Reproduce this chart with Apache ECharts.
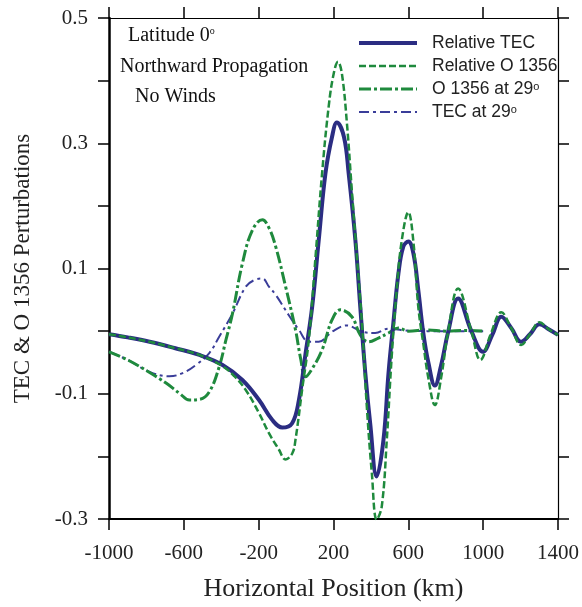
<!DOCTYPE html>
<html>
<head>
<meta charset="utf-8">
<script src="https://cdn.jsdelivr.net/npm/echarts@6/dist/echarts.min.js"></script>
<style>
html,body{margin:0;padding:0;background:#fff;}
#chart{width:582px;height:607px;}
</style>
</head>
<body>
<div id="chart"></div>
<script>
// ---- data (km, perturbation) ----
var xTicksMin = -1000, xTicksMax = 1400, xTickStep = 400;
var yMin = -0.3, yMax = 0.5, yStep = 0.1;

var relTecX = [-1000,-900,-783,-650,-517,-393,-287,-198,-127,-74,-21,15,50,86,121,157,192,218,256,281,317,343,370,396,431,467,494,520,547,573,600,627,653,680,707,742,775,813,866,937,999,1050,1097,1150,1203,1250,1301,1350,1400];
var relTecV = [-0.005,-0.010,-0.017,-0.027,-0.038,-0.054,-0.078,-0.110,-0.142,-0.154,-0.147,-0.110,-0.037,0.039,0.145,0.252,0.310,0.333,0.310,0.252,0.145,0.039,-0.067,-0.147,-0.232,-0.174,-0.067,0.013,0.092,0.135,0.143,0.124,0.066,-0.003,-0.050,-0.087,-0.055,-0.001,0.052,0.000,-0.033,-0.005,0.023,0.005,-0.017,-0.005,0.011,0.003,-0.006];

var relOX = [-1000,-900,-783,-650,-517,-393,-330,-269,-198,-145,-92,-56,-20,-3,32,68,104,139,174,201,224,245,272,298,325,352,378,405,431,458,485,511,538,565,600,627,653,680,707,742,775,813,866,937,985,1040,1097,1150,1203,1250,1301,1350,1400];
var relOV = [-0.005,-0.010,-0.017,-0.027,-0.038,-0.056,-0.072,-0.094,-0.131,-0.163,-0.189,-0.205,-0.195,-0.173,-0.094,-0.014,0.119,0.252,0.358,0.411,0.430,0.411,0.331,0.225,0.119,0.013,-0.120,-0.227,-0.301,-0.280,-0.173,-0.041,0.066,0.145,0.190,0.143,0.039,-0.020,-0.075,-0.118,-0.075,0.000,0.068,0.000,-0.046,-0.005,0.030,0.005,-0.022,-0.005,0.014,0.003,-0.006];

var o29X = [-1000,-900,-783,-695,-620,-571,-517,-464,-411,-375,-340,-287,-234,-180,-145,-109,-56,-3,25,50,86,139,192,237,298,343,387,440,494,547,600,700,800,900,1000];
var o29V = [-0.033,-0.046,-0.066,-0.083,-0.100,-0.110,-0.109,-0.097,-0.057,-0.014,0.028,0.108,0.161,0.178,0.165,0.135,0.071,0.002,-0.045,-0.073,-0.060,-0.030,0.018,0.034,0.023,-0.006,-0.017,-0.011,-0.003,0.005,0.000,0.002,0.000,0.001,0.000];

var tec29X = [-1000,-900,-783,-677,-606,-535,-464,-411,-340,-269,-220,-180,-145,-109,-38,15,68,121,192,272,352,423,494,583,700,800,900,1000];
var tec29V = [-0.033,-0.046,-0.065,-0.072,-0.067,-0.054,-0.035,-0.009,0.028,0.071,0.082,0.084,0.071,0.058,0.025,0.002,-0.017,-0.017,-0.001,0.009,-0.001,-0.003,0.004,0.001,0.000,0.000,0.000,0.000];

var seriesNames = ['Relative TEC','Relative O 1356','O 1356 at 29\u00b0','TEC at 29\u00b0'];
var annotations = ['Latitude 0{deg|o}','Northward Propagation','No Winds'];
var xTitle = 'Horizontal Position (km)';
var yTitle = 'TEC & O 1356 Perturbations';

function pairs(xs, vs){ return xs.map(function(x,i){ return [x, vs[i]]; }); }

var NAVY = '#2b2d82', GREEN = '#1f8a3d', NAVY2 = '#3a3d99';
var serif = 'Liberation Serif';
var styles = [
  {color:NAVY, width:4, type:'solid'},
  {color:GREEN, width:2.5, type:[7,3]},
  {color:GREEN, width:3, type:[12,3,3,3]},
  {color:NAVY2, width:2, type:[10,4,3,4]}
];

var chart = echarts.init(document.getElementById('chart'), null, {renderer:'canvas'});

function xAx(pos, labels){
  return {
    type:'value', position:pos, min:xTicksMin, max:xTicksMax, interval:xTickStep,
    axisLine:{show:true, onZero:false, lineStyle:{color:'#000', width: pos==='bottom'?2:1.2}},
    axisTick:{show:true, inside:false, length:11, lineStyle:{color:'#000', width:1.5}},
    axisLabel:{show:labels, margin:24, fontFamily:serif, fontSize:21, color:'#222',
      formatter:function(v){ return String(Math.round(v)); }},
    splitLine:{show:false},
    name: labels ? xTitle : '', nameLocation:'middle', nameGap:57,
    nameTextStyle:{fontFamily:serif, fontSize:26, color:'#222'}
  };
}
function yAx(pos, labels){
  return {
    type:'value', position:pos, min:yMin, max:yMax, interval:yStep,
    axisLine:{show:true, onZero:false, lineStyle:{color:'#000', width: pos==='left'?2.5:1.2}},
    axisTick:{show:true, inside:false, length:11, lineStyle:{color:'#000', width:1.5}},
    axisLabel:{show:labels, margin:21, fontFamily:serif, fontSize:21, color:'#222',
      formatter:function(v){ var k=Math.round(v*10); return (Math.abs(k)%2===1) ? (k/10).toFixed(1) : ''; }},
    splitLine:{show:false},
    name: labels ? yTitle : '', nameLocation:'middle', nameGap:75,
    nameTextStyle:{fontFamily:serif, fontSize:23, color:'#222'}
  };
}

var option = {
  animation:false,
  backgroundColor:'#fff',
  grid:{left:109, top:18, right:22, bottom:87, containLabel:false},
  xAxis:[xAx('bottom', true), xAx('top', false)],
  yAxis:[yAx('left', true), yAx('right', false)],
  legend:{
    orient:'vertical', left:357, top:34, padding:0, itemWidth:58, itemHeight:12, itemGap:5,
    data:seriesNames.map(function(n,i){ return {name:n, lineStyle:{color:styles[i].color, width:styles[i].width, type:styles[i].type}}; }),
    itemStyle:{opacity:0},
    formatter:function(n){ return n.replace('29\u00b0','29{sup|o}'); },
    textStyle:{fontFamily:'Liberation Sans', fontSize:17.5, color:'#222', lineHeight:16, padding:[0,0,0,10],
      rich:{sup:{fontFamily:'Liberation Sans', fontSize:11, verticalAlign:'top', lineHeight:16, color:'#222'}}}
  },
  graphic:[
    {type:'text', left:128, top:26, style:{text:annotations[0], font:'20px "Liberation Serif"', fill:'#111',
      rich:{deg:{font:'10px "Liberation Serif"', verticalAlign:'top', lineHeight:20, fill:'#111'}}}},
    {type:'text', left:120, top:57, style:{text:annotations[1], font:'20px "Liberation Serif"', fill:'#111'}},
    {type:'text', left:135, top:87, style:{text:annotations[2], font:'20px "Liberation Serif"', fill:'#111'}}
  ],
  series:[
    {name:seriesNames[3], type:'line', symbol:'none', smooth:0.4, data:pairs(tec29X, tec29V),
      lineStyle:styles[3], itemStyle:{color:NAVY2}, z:2},
    {name:seriesNames[2], type:'line', symbol:'none', smooth:0.4, data:pairs(o29X, o29V),
      lineStyle:styles[2], itemStyle:{color:GREEN}, z:3},
    {name:seriesNames[0], type:'line', symbol:'none', smooth:0.4, data:pairs(relTecX, relTecV),
      lineStyle:styles[0], itemStyle:{color:NAVY}, z:4},
    {name:seriesNames[1], type:'line', symbol:'none', smooth:0.4, data:pairs(relOX, relOV),
      lineStyle:styles[1], itemStyle:{color:GREEN}, z:5}
  ]
};
chart.setOption(option);
</script>
</body>
</html>
